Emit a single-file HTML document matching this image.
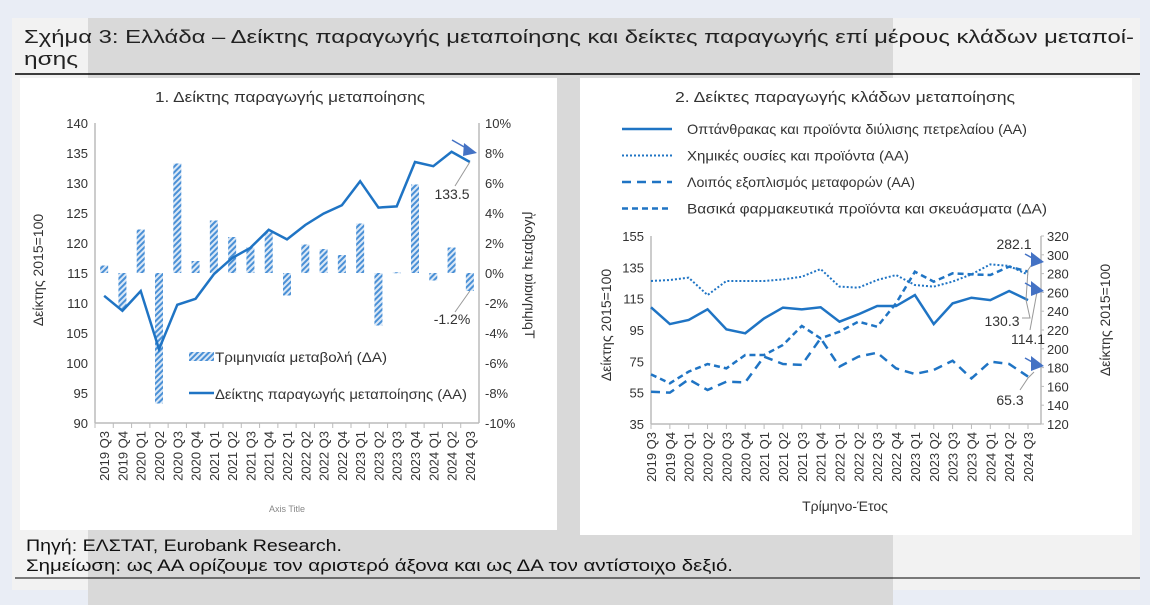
<!DOCTYPE html>
<html><head><meta charset="utf-8"><style>
body{margin:0;width:1150px;height:605px;overflow:hidden;background:#e9edf5;font-family:"Liberation Sans",sans-serif;}
svg{position:absolute;left:0;top:0}
</style></head><body>
<svg id="s" width="1150" height="605" xmlns="http://www.w3.org/2000/svg" font-family="Liberation Sans, sans-serif">
<defs>
<pattern id="hatch" patternUnits="userSpaceOnUse" width="4" height="4" patternTransform="rotate(45)">
<rect width="4" height="4" fill="#dbe8f6"/><rect width="2" height="4" fill="#4a90d6"/></pattern>
</defs>
<rect x="12" y="18" width="1128" height="572" fill="#f2f2f2"/>
<rect x="88" y="18" width="805" height="587" fill="#d9d9d9"/>
<text x="24" y="43" font-size="18" fill="#222" textLength="1110" lengthAdjust="spacingAndGlyphs">Σχήμα 3: Ελλάδα – Δείκτης παραγωγής μεταποίησης και δείκτες παραγωγής επί μέρους κλάδων μεταποί-</text>
<text x="24" y="65" font-size="18" fill="#222" textLength="54" lengthAdjust="spacingAndGlyphs">ησης</text>
<line x1="15" y1="74" x2="1140" y2="74" stroke="#000" stroke-width="1.5"/>
<rect x="20" y="78" width="537" height="452" fill="#fff"/>
<rect x="580" y="78" width="552" height="457" fill="#fff"/>
<text x="290" y="102" font-size="15" text-anchor="middle" fill="#333" textLength="270" lengthAdjust="spacingAndGlyphs">1. Δείκτης παραγωγής μεταποίησης</text>
<text x="845" y="102" font-size="15" text-anchor="middle" fill="#333" textLength="340" lengthAdjust="spacingAndGlyphs">2. Δείκτες παραγωγής κλάδων μεταποίησης</text>
<text x="26" y="551" font-size="17" fill="#111" textLength="316" lengthAdjust="spacingAndGlyphs">Πηγή: ΕΛΣΤΑΤ, Eurobank Research.</text>
<text x="26" y="571" font-size="17" fill="#111" textLength="707" lengthAdjust="spacingAndGlyphs">Σημείωση: ως ΑΑ ορίζουμε τον αριστερό άξονα και ως ΔΑ τον αντίστοιχο δεξιό.</text>
<line x1="15" y1="578" x2="1140" y2="578" stroke="#000" stroke-width="1"/>
<g id="g1"></g><g id="g2"></g>
</svg>
<script>
const categories=["2019 Q3","2019 Q4","2020 Q1","2020 Q2","2020 Q3","2020 Q4","2021 Q1","2021 Q2","2021 Q3","2021 Q4","2022 Q1","2022 Q2","2022 Q3","2022 Q4","2023 Q1","2023 Q2","2023 Q3","2023 Q4","2024 Q1","2024 Q2","2024 Q3"];
const mfgIndex=[111.2,108.7,112,102.3,109.7,110.7,114.8,117.5,119.2,122.2,120.6,123,124.9,126.3,130.3,125.9,126.1,133.5,132.8,135.2,133.5];
const qoqChange=[0.5,-2.4,2.9,-8.7,7.3,0.8,3.5,2.4,1.7,2.7,-1.5,1.9,1.6,1.2,3.3,-3.5,0.05,5.9,-0.5,1.7,-1.2];
const leftTicks1=[90,95,100,105,110,115,120,125,130,135,140];
const rightTicks1=[-10,-8,-6,-4,-2,0,2,4,6,8,10];
const coke=[109.5,98.8,101.4,108.2,95.4,92.9,102.4,109.3,108.2,109.5,100.3,105,110.3,110.3,117.3,98.8,112,115.6,114.1,119.9,114.1];
const chemicals=[126.3,126.9,128.4,117.3,126.3,126.3,126.3,127.3,129,133.9,122.7,122,126.9,130.1,123.7,122.7,125.9,130.5,136.9,135.9,130.3];
const transport=[55.6,55,63.5,56.7,62,61.6,78,73.3,72.7,89.7,71.6,78,80.5,70.5,66.9,69.5,75.4,64.1,74.8,73.3,65.3];
const pharma=[172.8,163.3,175.7,183.8,179.2,193.4,193.4,204,224.3,211.1,218.2,228.9,223.5,248.4,282,271.4,280.3,279.2,278.5,287.4,282.1];
const leftTicks2=[35,55,75,95,115,135,155];
const rightTicks2=[120,140,160,180,200,220,240,260,280,300,320];
const BLUE="#1f74c4",NS="http://www.w3.org/2000/svg",FS=13;
function mk(p,t,a,txt){const e=document.createElementNS(NS,t);for(const k in a)e.setAttribute(k,a[k]);if(txt!==undefined)e.textContent=txt;p.appendChild(e);return e;}
// chart 1
const g1=document.getElementById('g1');
const L1=95,R1=479,T1=123,B1=423,band=(R1-L1)/categories.length;
const x1=i=>L1+band*(i+0.5), yL1=v=>B1-(v-90)/50*(B1-T1), yR1=v=>B1-(v+10)/20*(B1-T1);
let e;
mk(g1,'line',{x1:L1,y1:T1,x2:L1,y2:B1,stroke:'#bbb','stroke-width':1.5});
mk(g1,'line',{x1:R1,y1:T1,x2:R1,y2:B1,stroke:'#bbb','stroke-width':1.5});
mk(g1,'line',{x1:L1,y1:B1,x2:R1,y2:B1,stroke:'#bbb','stroke-width':1.5});
leftTicks1.forEach(v=>{e=mk(g1,'text',{x:88,y:yL1(v)+5,'font-size':FS,'text-anchor':'end',fill:'#333'},v);
});
rightTicks1.forEach(v=>{e=mk(g1,'text',{x:485,y:yR1(v)+5,'font-size':FS,fill:'#333'},v+'%');
});
categories.forEach((c,i)=>{mk(g1,'line',{x1:L1+band*i,y1:B1,x2:L1+band*i,y2:B1+5,stroke:'#bbb'});
e=mk(g1,'text',{transform:`translate(${x1(i)+5},${B1+8}) rotate(-90)`,'font-size':FS,'text-anchor':'end',fill:'#333'},c);
});
qoqChange.forEach((v,i)=>{const y0=yR1(0),y=yR1(v);e=mk(g1,'rect',{x:x1(i)-4,y:Math.min(y0,y),width:8,height:Math.max(1,Math.abs(y-y0)),fill:'url(#hatch)'});
});
e=mk(g1,'polyline',{points:mfgIndex.map((v,i)=>x1(i)+','+yL1(v)).join(' '),fill:'none',stroke:BLUE,'stroke-width':2.5});

e=mk(g1,'text',{transform:'translate(43,270) rotate(-90)','font-size':14,'text-anchor':'middle',fill:'#333'},'Δείκτης 2015=100');

e=mk(g1,'text',{transform:'translate(525,275) rotate(-90) scale(1,-1)','font-size':14,'text-anchor':'middle',fill:'#333'},'Τριμηνιαία μεταβολή');

e=mk(g1,'text',{x:287,y:512,'font-size':9,'text-anchor':'middle',fill:'#888'},'Axis Title');

e=mk(g1,'rect',{x:189,y:352,width:25,height:9,fill:'url(#hatch)'});

e=mk(g1,'text',{x:215,y:362,'font-size':14,fill:'#333',textLength:172,lengthAdjust:'spacingAndGlyphs'},'Τριμηνιαία μεταβολή (ΔΑ)');

mk(g1,'line',{x1:189,y1:393,x2:214,y2:393,stroke:BLUE,'stroke-width':2.5});
e=mk(g1,'text',{x:215,y:399,'font-size':14,fill:'#333',textLength:252,lengthAdjust:'spacingAndGlyphs'},'Δείκτης παραγωγής μεταποίησης (ΑΑ)');

const n=categories.length-1;
e=mk(g1,'text',{x:452,y:199,'font-size':14,'text-anchor':'middle',fill:'#333'},mfgIndex[n].toFixed(1));

mk(g1,'line',{x1:x1(n),y1:yL1(mfgIndex[n]),x2:455,y2:186,stroke:'#999'});
e=mk(g1,'text',{x:452,y:324,'font-size':14,'text-anchor':'middle',fill:'#333'},qoqChange[n].toFixed(1)+'%');

mk(g1,'line',{x1:x1(n),y1:yR1(qoqChange[n]),x2:455,y2:312,stroke:'#999'});
mk(g1,'line',{x1:452,y1:140,x2:466,y2:148,stroke:'#4472c4','stroke-width':1.5});
e=mk(g1,'polygon',{points:'464,143 477,153 463,156',fill:'#4472c4'});

// chart 2
const g2=document.getElementById('g2');
const L2=651,R2=1041,T2=236,B2=424,step=(1028-651)/n;
const x2=i=>L2+step*i, yL2=v=>B2-(v-35)/120*(B2-T2), yR2=v=>B2-(v-120)/200*(B2-T2);
mk(g2,'line',{x1:L2,y1:T2,x2:L2,y2:B2,stroke:'#bbb','stroke-width':1.5});
mk(g2,'line',{x1:R2,y1:T2,x2:R2,y2:B2,stroke:'#bbb','stroke-width':1.5});
mk(g2,'line',{x1:L2,y1:B2,x2:R2,y2:B2,stroke:'#bbb','stroke-width':1.5});
leftTicks2.forEach(v=>{e=mk(g2,'text',{x:644,y:yL2(v)+5,'font-size':FS,'text-anchor':'end',fill:'#333'},v);
});
rightTicks2.forEach(v=>{mk(g2,'line',{x1:R2,y1:yR2(v),x2:R2+3,y2:yR2(v),stroke:'#bbb'});e=mk(g2,'text',{x:1047,y:yR2(v)+5,'font-size':FS,fill:'#333'},v);
});
categories.forEach((c,i)=>{mk(g2,'line',{x1:x2(i),y1:B2,x2:x2(i),y2:B2+5,stroke:'#bbb'});
e=mk(g2,'text',{transform:`translate(${x2(i)+5},${B2+8}) rotate(-90)`,'font-size':FS,'text-anchor':'end',fill:'#333'},c);
});
function series(arr,yf,dash,w){return mk(g2,'polyline',{points:arr.map((v,i)=>x2(i)+','+yf(v)).join(' '),fill:'none',stroke:BLUE,'stroke-width':w,'stroke-dasharray':dash});}
e=series(coke,yL2,'none',2.5);

e=series(chemicals,yL2,'2,2',2);

e=series(transport,yL2,'9,6',2.5);

e=series(pharma,yR2,'6,4',2.5);

const leg=[['none',2.5,'Οπτάνθρακας και προϊόντα διύλισης πετρελαίου (ΑΑ)',340],['2,2',2,'Χημικές ουσίες και προϊόντα (ΑΑ)',222],['9,6',2.5,'Λοιπός εξοπλισμός μεταφορών (ΑΑ)',228],['6,4',2.5,'Βασικά φαρμακευτικά προϊόντα και σκευάσματα (ΔΑ)',360]];
leg.forEach((l,k)=>{const y=129+k*26.5;mk(g2,'line',{x1:622,y1:y,x2:672,y2:y,stroke:BLUE,'stroke-width':l[1],'stroke-dasharray':l[0]});
e=mk(g2,'text',{x:687,y:y+5,'font-size':14,fill:'#333',textLength:l[3],lengthAdjust:'spacingAndGlyphs'},l[2]);
});
e=mk(g2,'text',{transform:'translate(611,325) rotate(-90)','font-size':14,'text-anchor':'middle',fill:'#333'},'Δείκτης 2015=100');

e=mk(g2,'text',{transform:'translate(1110,320) rotate(-90)','font-size':14,'text-anchor':'middle',fill:'#333'},'Δείκτης 2015=100');

e=mk(g2,'text',{x:845,y:511,'font-size':14,'text-anchor':'middle',fill:'#333'},'Τρίμηνο-Έτος');

e=mk(g2,'text',{x:1014,y:249,'font-size':14,'text-anchor':'middle',fill:'#333'},pharma[n].toFixed(1));

e=mk(g2,'text',{x:1002,y:326,'font-size':14,'text-anchor':'middle',fill:'#333'},chemicals[n].toFixed(1));

e=mk(g2,'text',{x:1028,y:344,'font-size':14,'text-anchor':'middle',fill:'#333'},coke[n].toFixed(1));

e=mk(g2,'text',{x:1010,y:405,'font-size':14,'text-anchor':'middle',fill:'#333'},transport[n].toFixed(1));

mk(g2,'polyline',{points:'1022,318 1030,318 1026,300 1028,270 1035,260',fill:'none',stroke:'#999'});
mk(g2,'polyline',{points:'1030,330 1037,292',fill:'none',stroke:'#999'});
mk(g2,'polyline',{points:'1020,390 1028,378 1034,372',fill:'none',stroke:'#999'});
[[262],[291],[366]].forEach(p=>{mk(g2,'line',{x1:1025,y1:p[0]-8,x2:1034,y2:p[0]-3,stroke:'#4472c4','stroke-width':1.5});
e=mk(g2,'polygon',{points:`1031,${p[0]-10} 1044,${p[0]} 1031,${p[0]+5}`,fill:'#4472c4'});
});
</script>
</body></html>
